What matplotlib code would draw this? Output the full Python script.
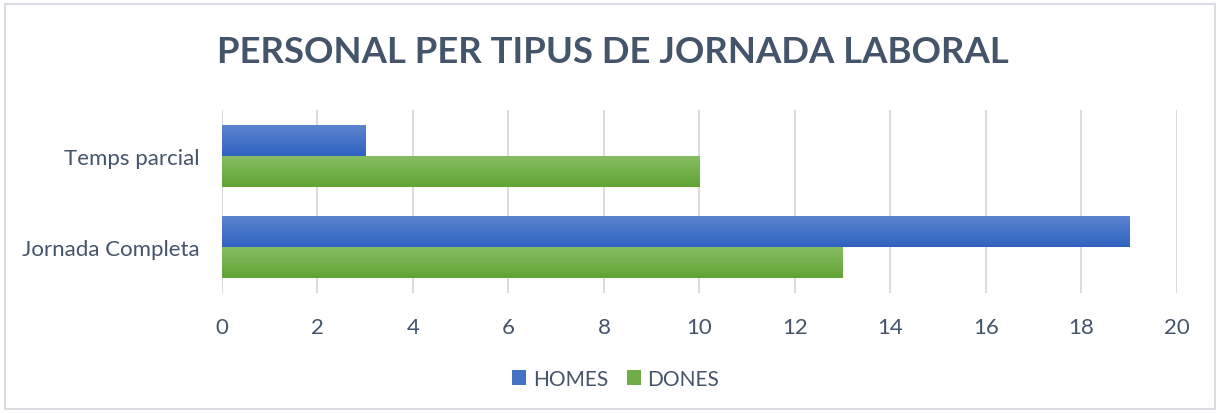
import numpy as np
import matplotlib.pyplot as plt
from matplotlib.patches import Rectangle

categories = ['Jornada Completa', 'Temps parcial']
homes = [19, 3]
dones = [13, 10]
series_names = ['HOMES', 'DONES']
xticks = list(range(0, 21, 2))

plt.rcParams['font.family'] = ['Lato', 'DejaVu Sans']
txt = '#44546a'

fig = plt.figure(figsize=(12.19, 4.14), dpi=100)
ax = fig.add_axes([0.1821, 0.2899, 0.7834, 0.442])

# border round the whole chart
fig.patches.append(Rectangle((0.004, 0.01), 0.9925, 0.978, transform=fig.transFigure,
                             fill=False, edgecolor='#d9dde3', linewidth=1.5))

y = np.arange(len(categories))
h = 0.338


def gradient_bars(bars, top, bottom):
    cmap = plt.matplotlib.colors.LinearSegmentedColormap.from_list('g', [bottom, top])
    grad = np.linspace(0, 1, 64).reshape(-1, 1)
    for b in bars:
        x0, y0 = b.get_x(), b.get_y()
        im = ax.imshow(grad, cmap=cmap, aspect='auto', origin='lower',
                       extent=(x0, x0 + b.get_width(), y0, y0 + b.get_height()), zorder=3)
        im.set_clip_path(b)


b1 = ax.barh(y + h / 2, homes, height=h, color='#4472c4', label=series_names[0], zorder=2)
b2 = ax.barh(y - h / 2, dones, height=h, color='#70ad47', label=series_names[1], zorder=2)
gradient_bars(b1, '#5c84d0', '#2f62c0')
gradient_bars(b2, '#86bd62', '#62a434')

ax.set_xlim(0, 20)
ax.set_ylim(-0.5, 1.5)
ax.set_xticks(xticks)
ax.set_yticks(y)
ax.set_yticklabels(categories)
ax.grid(axis='x', color='#d9dde3', linewidth=1.5, zorder=0)
ax.set_axisbelow(True)
for s in ax.spines.values():
    s.set_visible(False)
ax.tick_params(length=0, labelsize=16, labelcolor=txt)
ax.tick_params(axis='x', pad=17)
ax.tick_params(axis='y', pad=16)

fig.suptitle('PERSONAL PER TIPUS DE JORNADA LABORAL', x=0.503, y=0.912,
             fontsize=26.3, fontweight='bold', color=txt)

leg = fig.legend(handles=[b1, b2], labels=series_names, loc='center', bbox_to_anchor=(0.505, 0.082),
                 ncol=2, frameon=False, fontsize=15, labelcolor=txt, handlelength=0.7,
                 handleheight=0.7, handletextpad=0.3, columnspacing=0.9)

fig.savefig('out.png', dpi=100)
